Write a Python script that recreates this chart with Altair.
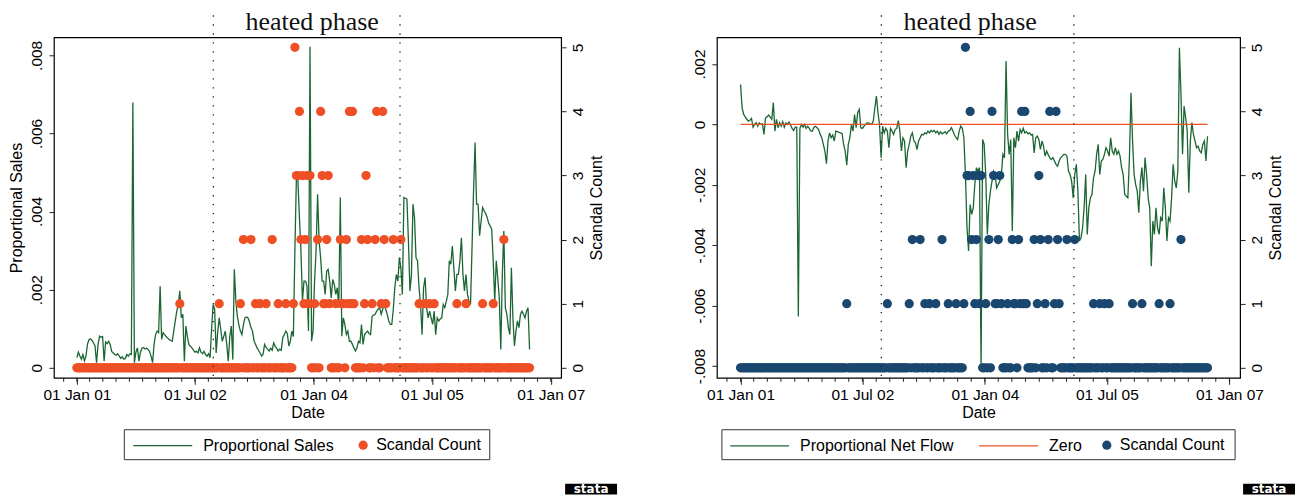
import altair as alt
import pandas as pd

FONT = "Liberation Sans"
SERIF = "Liberation Serif"
GREEN = "#1b6632"
ORANGE = "#ee4f25"
NAVY = "#1a476f"

# ---------------- data ----------------
start_date = "2001-01-01"
n_weeks = 300

# Proportional Sales, weekly, in units of 1e-5
sales_e5 = [
    26, 40, 30, 22, 34, 18, 30, 60, 72, 74,
    70, 64, 56, 13, 60, 81, 78, 80, 17, 66,
    62, 68, 60, 42, 38, 34, 32, 36, 30, 24,
    28, 22, 24, 34, 30, 36, 34, 679, 13, 40,
    51, 17, 40, 50, 52, 48, 50, 47, 42, 30,
    13, 60, 85, 94, 90, 209, 73, 90, 85, 80,
    76, 72, 70, 68, 94, 120, 145, 162, 197, 128,
    137, 17, 107, 80, 60, 55, 51, 45, 40, 42,
    38, 51, 40, 36, 42, 34, 30, 36, 26, 100,
    162, 150, 38, 90, 128, 100, 68, 80, 94, 60,
    17, 80, 107, 21, 252, 171, 132, 110, 94, 85,
    110, 128, 130, 128, 118, 103, 94, 70, 60, 51,
    45, 38, 30, 35, 60, 52, 48, 43, 50, 45,
    64, 55, 50, 43, 48, 45, 77, 85, 94, 88,
    56, 68, 94, 80, 300, 487, 479, 385, 300, 171,
    222, 222, 209, 94, 822, 68, 94, 222, 300, 444,
    325, 282, 222, 222, 188, 248, 252, 222, 179, 226,
    214, 188, 205, 154, 436, 81, 128, 111, 85, 94,
    68, 68, 60, 51, 43, 51, 68, 64, 111, 60,
    85, 90, 94, 88, 85, 132, 135, 137, 145, 150,
    154, 137, 150, 162, 150, 137, 120, 111, 111, 150,
    205, 239, 222, 282, 256, 188, 436, 434, 432, 325,
    197, 239, 419, 385, 282, 274, 205, 162, 85, 205,
    231, 154, 128, 145, 128, 111, 145, 85, 128, 120,
    125, 128, 162, 154, 170, 188, 274, 265, 312, 256,
    197, 239, 239, 274, 333, 239, 197, 239, 188, 170,
    162, 308, 453, 577, 419, 419, 338, 376, 410, 402,
    395, 385, 370, 363, 355, 274, 171, 274, 230, 179,
    47, 239, 350, 154, 137, 103, 85, 256, 128, 56,
    94, 120, 103, 137, 145, 137, 128, 145, 154, 47,
]

# Proportional Net Flow, weekly, in units of 1e-5
netflow_e5 = [
    132, 55, 33, 25, 17, 11, 14, 20, -9, 0,
    6, -6, 5, 0, 2, -33, 22, 25, 31, 24,
    17, 72, -22, 17, -11, 6, -6, 9, -9, 5,
    0, 8, -2, -13, -20, -9, -9, -636, -13, 0,
    -9, 0, -13, -6, -13, -22, -22, -9, -6, -11,
    -17, -33, -44, -66, -88, -130, -55, -28, -44, -35,
    -55, -22, -24, -26, -28, -30, -66, -88, -135, -66,
    -44, 0, -22, 33, -11, 39, 50, -11, -13, -6,
    0, 5, 5, 2, 0, 11, 55, 94, 39, -2,
    -110, -6, -28, -13, -22, -77, -13, -22, -33, -17,
    -13, 13, -22, -88, -44, -55, -143, -88, -66, -39,
    -28, -55, -61, -83, -55, -44, -33, -35, -28, -31,
    -22, -28, -20, -24, -20, -28, -22, -33, -24, -31,
    -28, -24, -31, -22, -20, -11, -22, -35, -44, -50,
    -22, -6, -13, -44, -166, -342, -419, -265, -298, -276,
    -199, -143, -155, -143, -806, -50, -66, -166, -364, -265,
    -221, -188, -155, -166, -210, -199, -188, -166, -99, -110,
    210, -33, -99, -50, -353, -44, -77, -22, -55, -17,
    -28, -13, -28, -24, -31, -28, -35, -33, -94, -44,
    -39, -50, -83, -55, -72, -105, -88, -100, -110, -116,
    -110, -121, -132, -138, -121, -110, -105, -99, -99, -105,
    -155, -166, -188, -243, -166, -132, -221, -386, -375, -342,
    -276, -166, -364, -276, -243, -232, -177, -155, -99, -66,
    -166, -121, -116, -99, -77, -88, -105, -44, -88, -99,
    -77, -99, -88, -105, -143, -166, -232, -238, -243, -110,
    105, -55, -166, -199, -221, -292, -188, -143, -221, -110,
    -166, -243, -276, -469, -320, -364, -276, -342, -364, -309,
    -320, -210, -276, -386, -309, -320, -243, -132, -188, -210,
    -155, 254, 99, -99, 61, 22, -22, -226, -55, 6,
    -33, -55, -77, -72, -88, -94, -66, -55, -121, -39,
]

# Scandal Count: weeks (index in the weekly calendar) with a non-zero count
scandal_weeks = [68, 94, 108, 110, 115, 118, 121, 125, 129, 133, 138,
                 143, 144, 145, 146, 147, 148, 149, 150, 151, 152, 153, 154,
                 157, 159, 161, 162, 163, 164, 165, 166, 167,
                 171, 174, 175, 176, 178, 179, 180, 181, 182, 183,
                 188, 190, 191, 192, 195, 197, 198, 201, 202, 203, 204,
                 209, 214, 226, 230, 233, 236, 251, 257, 268, 275, 282]
scandal_counts = [1, 1, 1, 2, 2, 1, 1, 1, 2, 1, 1,
                  1, 5, 3, 3, 4, 2, 3, 1, 2, 3, 1, 3,
                  1, 2, 4, 3, 1, 1, 2, 3, 1,
                  1, 2, 1, 1, 2, 1, 4, 1, 4, 1,
                  2, 1, 3, 2, 1, 2, 4, 1, 4, 2, 1,
                  2, 2, 1, 1, 1, 1, 1, 1, 1, 1, 2]

phase_dates = ["2002-09-24", "2005-02-03"]
heated_text = "heated phase"
heated_date_left = "2003-12-25"
heated_date_right = "2003-10-27"

major_tick_dates = [(2001, 1), (2002, 7), (2004, 1), (2005, 7), (2007, 1)]
minor_tick_dates = pd.date_range("2000-11-01", "2007-01-01", freq="2MS")
sales_ticks = [0, 0.002, 0.004, 0.006, 0.008]
flow_ticks = [-0.008, -0.006, -0.004, -0.002, 0, 0.002]
count_ticks = [0, 1, 2, 3, 4, 5]

# ---------------- tables ----------------
weeks = pd.date_range(start_date, periods=n_weeks, freq="7D")
sales_df = pd.DataFrame({"date": weeks, "value": [v * 1e-5 for v in sales_e5]})
flow_df = pd.DataFrame({"date": weeks, "value": [v * 1e-5 for v in netflow_e5]})
counts = [0] * n_weeks
for w, c in zip(scandal_weeks, scandal_counts):
    counts[w] = c
scandal_df = pd.DataFrame({"date": weeks, "count": counts})
zero_df = pd.DataFrame({"date": [weeks[0], weeks[-1]], "value": [0.0, 0.0]})
phase_df = pd.DataFrame({"date": pd.to_datetime(phase_dates)})
minor_df = pd.DataFrame({"date": minor_tick_dates})

XDOM = [alt.DateTime(year=2000, month=9, date=17), alt.DateTime(year=2007, month=2, date=18)]
MAJOR = [alt.DateTime(year=y, month=m, date=1) for y, m in major_tick_dates]
YEXPR = ("datum.value == 0 ? '0' : (datum.value < 0 ? '-' : '') + '.' + "
         "format(abs(datum.value) * 1000, '03d')")
H = 341


def x_enc():
    return alt.X("date:T", scale=alt.Scale(domain=XDOM),
                 axis=alt.Axis(values=MAJOR, format="%d %b %y", title="Date",
                               tickSize=6.5, labelPadding=3, titlePadding=2,
                               labelOverlap=False, labelFlush=False))


def panel(line_df, y_domain, y_ticks, y_title, dot_color, width,
          line_names, line_colors, line_legend_x, line_col_pad, dot_legend_x,
          box_x, box_w, heated_date, logo_x, zero=False):
    yscale = alt.Scale(domain=y_domain, nice=False, zero=False)
    yaxis = alt.Axis(values=y_ticks, labelExpr=YEXPR, orient="left",
                     labelAngle=270, labelAlign="center", labelBaseline="bottom",
                     tickSize=5, labelPadding=4, titlePadding=5,
                     title=y_title if y_title else None)
    line = alt.Chart(line_df).mark_line(color=GREEN, strokeWidth=1.3).encode(
        x=x_enc(), y=alt.Y("value:Q", scale=yscale, axis=yaxis))
    layers = [line]
    if zero:
        layers.append(alt.Chart(zero_df).mark_line(color=ORANGE, strokeWidth=1.3).encode(
            x=x_enc(), y=alt.Y("value:Q", scale=yscale, axis=None)))
    points = alt.Chart(scandal_df).mark_circle(size=85, opacity=1, color=dot_color).encode(
        x=x_enc(),
        y=alt.Y("count:Q", scale=alt.Scale(domain=[-0.156, 5.156], nice=False, zero=False),
                axis=alt.Axis(values=count_ticks, format="d", orient="right",
                              title="Scandal Count", titleAngle=270, titleBaseline="top",
                              labelAngle=270, labelAlign="center", labelBaseline="top",
                              tickSize=5, labelPadding=4, titlePadding=3)))
    layers.append(points)
    rules = alt.Chart(phase_df).mark_rule(color="#222", strokeWidth=1.3,
                                          strokeDash=[1.3, 7.7]).encode(
        x=x_enc(), y=alt.value(-22), y2=alt.value(H))
    minor = alt.Chart(minor_df).mark_rule(color="#222", strokeWidth=1).encode(
        x=x_enc(), y=alt.value(H), y2=alt.value(H + 4))
    text = alt.Chart(pd.DataFrame({"date": [pd.Timestamp(heated_date)],
                                   "label": [heated_text]})).mark_text(
        font=SERIF, fontSize=26, color="#111", baseline="middle", align="center").encode(
        x=x_enc(), y=alt.value(-15), text="label:N")

    # legend: one legend for the line keys, one for the dot key, inside a drawn box
    line_leg = alt.Legend(title=None, orient="none", legendX=line_legend_x, legendY=378.5,
                          direction="horizontal", columns=len(line_names),
                          symbolType="stroke", symbolSize=3481, symbolStrokeWidth=1.3,
                          labelFont=FONT, labelFontSize=16, labelColor="black",
                          labelOffset=10, labelLimit=0, padding=0,
                          columnPadding=line_col_pad)
    dot_leg = alt.Legend(title=None, orient="none", legendX=dot_legend_x, legendY=400.5,
                         direction="horizontal", symbolType="circle", symbolSize=85,
                         symbolStrokeWidth=0, labelFont=FONT, labelFontSize=16,
                         labelColor="black", labelOffset=5, labelLimit=0, padding=0)
    legend_df = pd.DataFrame({"series": line_names + ["Scandal Count"]})
    legend_layer = alt.Chart(legend_df).mark_point(filled=True, clip=True, opacity=1).encode(
        x=alt.value(-500), y=alt.value(-500),
        stroke=alt.Stroke("series:N", scale=alt.Scale(domain=line_names, range=line_colors),
                          legend=line_leg),
        fill=alt.Fill("series:N", scale=alt.Scale(domain=["Scandal Count"], range=[dot_color]),
                      legend=dot_leg))
    box_df = pd.DataFrame({"k": [0]})
    legend_box = alt.Chart(box_df).mark_rect(fillOpacity=0, stroke="#333", strokeWidth=1).encode(
        x=alt.value(box_x), x2=alt.value(box_x + box_w), y=alt.value(393), y2=alt.value(423))

    logo_df = pd.DataFrame({"t": ["stata"]})
    logo_box = alt.Chart(logo_df).mark_rect(color="black").encode(
        x=alt.value(logo_x), x2=alt.value(logo_x + 52), y=alt.value(447), y2=alt.value(458))
    logo_txt = alt.Chart(logo_df).mark_text(color="white", font="DejaVu Sans",
                                            fontWeight="bold", fontSize=12,
                                            baseline="middle").encode(
        x=alt.value(logo_x + 26), y=alt.value(452.5), text="t:N")
    layers += [rules, minor, text, legend_layer, legend_box, logo_box, logo_txt]
    return alt.layer(*layers).resolve_scale(y="independent").properties(width=width, height=H)


left = panel(sales_df, [-0.000256, 0.008461], sales_ticks, "Proportional Sales", ORANGE, 508,
             ["Proportional Sales"], [GREEN], 78.5, 20, 301.7,
             70.5, 366, heated_date_left, 512)
right = panel(flow_df, [-0.008387, 0.002883], flow_ticks, None, NAVY, 524,
              ["Proportional Net Flow", "Zero"], [GREEN, ORANGE], 12.3, 22.4, 382.5,
              5, 514, heated_date_right, 527, zero=True)

chart = alt.hconcat(left, right, spacing=74).resolve_scale(
    x="independent", fill="independent", stroke="independent"
).resolve_legend(fill="independent", stroke="independent").properties(
    padding={"left": 0, "top": 0, "right": 0, "bottom": 0}
).configure_view(stroke="black", strokeWidth=1.2).configure_axis(
    labelFont=FONT, titleFont=FONT, labelFontSize=15.5, titleFontSize=16,
    labelColor="black", titleColor="black", tickColor="#222", grid=False, domain=False,
    titleFontWeight="normal"
)

chart.save("out.html", embed_options={"renderer": "svg", "actions": False})
